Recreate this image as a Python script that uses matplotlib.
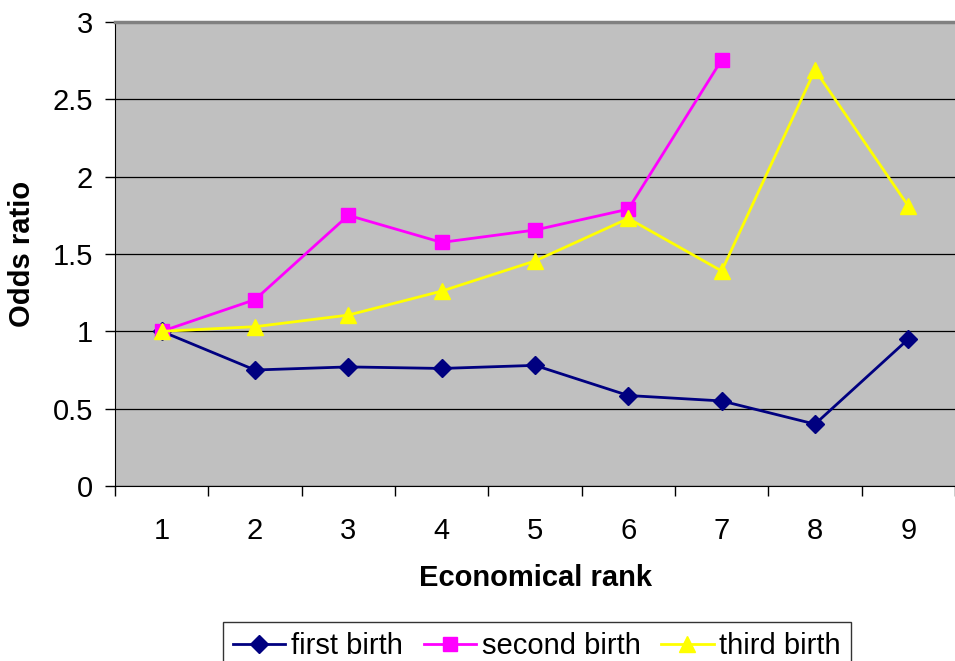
import matplotlib
matplotlib.use("Agg")
import matplotlib.pyplot as plt
import numpy as np

plt.rcParams['font.family'] = ['Liberation Sans', 'DejaVu Sans']

ranks = [1, 2, 3, 4, 5, 6, 7, 8, 9]
first_birth = [1.0, 0.75, 0.77, 0.76, 0.78, 0.585, 0.55, 0.40, 0.95]
second_birth = [1.0, 1.205, 1.75, 1.575, 1.655, 1.79, 2.755]
third_birth = [1.0, 1.03, 1.105, 1.26, 1.455, 1.73, 1.39, 2.69, 1.81]
yticks = [0, 0.5, 1, 1.5, 2, 2.5, 3]
ytick_labels = ['0', '0.5', '1', '1.5', '2', '2.5', '3']

fig = plt.figure(figsize=(9.55, 6.61), dpi=100)
ax = fig.add_axes([115/955, 1-486/661, 1-115/955, (486-22)/661])
ax.set_facecolor('#C0C0C0')

ax.plot(ranks, first_birth, color='#000080', marker='D', markersize=9, lw=2, label='first birth', zorder=3)
ax.plot(ranks[:len(second_birth)], second_birth, color='#FF00FF', marker='s', markersize=10, lw=2, label='second birth', zorder=3)
ax.plot(ranks, third_birth, color='#FFFF00', marker='^', markersize=12, lw=2, label='third birth', zorder=3)

ax.set_xlim(0.5, 9.5)
ax.set_ylim(0, 3)
ax.set_yticks(yticks)
ax.set_yticklabels(ytick_labels)
ax.yaxis.grid(True, color='black', lw=0.9)
ax.set_axisbelow(True)

ax.set_xticks(ranks)
ax.set_xticklabels([str(r) for r in ranks])
ax.set_xticks(np.arange(0.5, 10.0, 1.0), minor=True)
ax.tick_params(axis='x', which='major', length=0, pad=22, labelsize=21)
ax.tick_params(axis='x', which='minor', length=7, width=1, direction='out')
ax.tick_params(axis='y', length=7, width=1, direction='out', pad=9, labelsize=21)

ax.spines['top'].set_color('#808080')
ax.spines['top'].set_linewidth(2.5)
ax.spines['right'].set_visible(False)
ax.spines['left'].set_color('black')
ax.spines['bottom'].set_color('black')

ax.set_xlabel('Economical rank', fontsize=21, fontweight='bold', labelpad=14)
ax.set_ylabel('Odds ratio', fontsize=21, fontweight='bold', labelpad=12)

leg = fig.legend(loc='upper center', bbox_to_anchor=(537/955, 1-622/661), ncol=3,
                 fontsize=21, frameon=True, fancybox=False, edgecolor='black',
                 handlelength=1.8, handletextpad=0.2, columnspacing=0.7,
                 borderpad=0.35, borderaxespad=0)
leg.get_frame().set_linewidth(1.0)

fig.savefig('out.png', dpi=100)
